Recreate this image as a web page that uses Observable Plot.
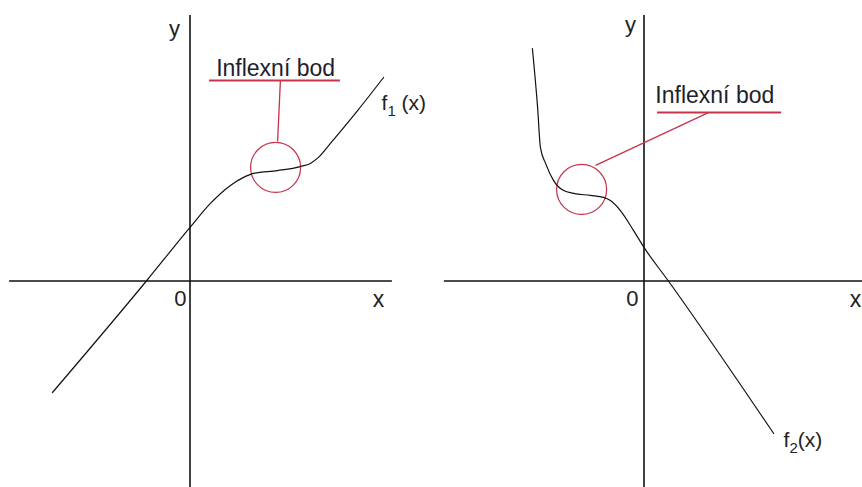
<!DOCTYPE html>
<html>
<head>
<meta charset="utf-8">
<script src="https://cdn.jsdelivr.net/npm/d3@7"></script>
<script src="https://cdn.jsdelivr.net/npm/@observablehq/plot@0.6"></script>
<style>
  html, body { margin: 0; padding: 0; background: #fff; }
  #wrap { display: flex; width: 862px; height: 487px; overflow: hidden; }
  #wrap svg { display: block; }
</style>
</head>
<body>
<div id="wrap"></div>
<script>
// ---- data (math units) ----
const f1X = [-3.44, -1.09, 0, 0.51, 1.01, 1.34, 1.59, 2.19, 2.76, 3.01, 3.21, 3.51, 4.19, 4.84];
const f1Y = [-2.79, 0, 1.34, 1.94, 2.39, 2.59, 2.69, 2.76, 2.86, 2.94, 3.09, 3.44, 4.26, 5.09];

const f2X = [-2.79, -2.66, -2.59, -2.46, -2.26, -2.01, -1.76, -1.34, -1.01, -0.84, -0.59, -0.26, 0, 0.61, 3.24];
const f2Y = [5.81, 4.34, 3.34, 2.94, 2.51, 2.26, 2.19, 2.14, 2.09, 2.01, 1.76, 1.26, 0.84, 0, -3.81];

const inflection1 = [2.14, 2.84];
const inflection2 = [-1.56, 2.29];

const curveNames = ["f_1 (x)", "f_2(x)"];
const calloutText = "Inflexní bod";
const axisNames = ["x", "y", "0"];

// ---- layout ----
const U = 40;             // px per unit
const W = 431, H = 487;
const RED = "#c8324a";
const FONT = "'Liberation Sans', Arial, sans-serif";

function panel(cfg) {
  const pts = cfg.xs.map((x, i) => ({x, y: cfg.ys[i]}));
  const ox = cfg.origin[0], oy = cfg.origin[1];
  const xd = [-ox / U, (W - ox) / U];
  const yd = [(oy - H) / U, oy / U];
  const [ix, iy] = cfg.infl;
  const svg = Plot.plot({
    width: W, height: H,
    margin: 0,
    x: {domain: xd, axis: null},
    y: {domain: yd, axis: null},
    style: {background: "#fff", fontFamily: FONT, color: "#222"},
    marks: [
      // axes
      Plot.ruleY([0], {x1: cfg.hAxis[0], x2: cfg.hAxis[1], stroke: "#111", strokeWidth: 1.6}),
      Plot.ruleX([0], {y1: cfg.vAxis[0], y2: cfg.vAxis[1], stroke: "#111", strokeWidth: 1.6}),
      // callout
      Plot.link([0], {x1: () => cfg.lead[0], y1: () => cfg.lead[1], x2: () => cfg.lead[2], y2: () => cfg.lead[3], stroke: RED, strokeWidth: 1.3}),
      Plot.ruleY([cfg.under[2]], {x1: cfg.under[0], x2: cfg.under[1], stroke: RED, strokeWidth: 2}),
      Plot.dot([[ix, iy]], {x: d => d[0], y: d => d[1], r: 25, stroke: RED, strokeWidth: 1.2, fill: "none"}),
      // curve
      Plot.line(pts, {x: "x", y: "y", curve: "monotone-x", stroke: "#111", strokeWidth: 1.2}),
      // texts
      Plot.text([calloutText], {x: () => cfg.label[0], y: () => cfg.label[1], text: d => d, fontSize: 23, textAnchor: "middle", lineAnchor: "bottom", fill: "#1e1e2e"}),
      Plot.text([cfg.name], {x: () => cfg.nameAt[0], y: () => cfg.nameAt[1], text: d => d, fontSize: 21, textAnchor: "start", lineAnchor: "middle", fill: "#222"}),
      Plot.text([axisNames[1]], {x: () => cfg.yAt[0], y: () => cfg.yAt[1], text: d => d, fontSize: 22, textAnchor: "middle", lineAnchor: "middle", fill: "#222"}),
      Plot.text([axisNames[2]], {x: () => cfg.zeroAt[0], y: () => cfg.zeroAt[1], text: d => d, fontSize: 22, textAnchor: "middle", lineAnchor: "middle", fill: "#222"}),
      Plot.text([axisNames[0]], {x: () => cfg.xAt[0], y: () => cfg.xAt[1], text: d => d, fontSize: 23, textAnchor: cfg.xAnchor, lineAnchor: "middle", fill: "#222"})
    ]
  });
  // subscripts
  svg.querySelectorAll("text").forEach(t => {
    const s = t.textContent;
    const m = s.match(/^(.*)_(\d)(.*)$/);
    if (!m) return;
    while (t.firstChild) t.removeChild(t.firstChild);
    const ns = "http://www.w3.org/2000/svg";
    const a = document.createElementNS(ns, "tspan"); a.textContent = m[1];
    const b = document.createElementNS(ns, "tspan"); b.textContent = m[2];
    b.setAttribute("font-size", "15"); b.setAttribute("dy", "6");
    const c = document.createElementNS(ns, "tspan"); c.textContent = m[3];
    c.setAttribute("dy", "-6");
    t.append(a, b, c);
  });
  return svg;
}

const wrap = document.getElementById("wrap");
wrap.append(panel({
  xs: f1X, ys: f1Y, infl: inflection1, name: curveNames[0],
  origin: [189.5, 280.5],
  hAxis: [-4.51, 5.06], vAxis: [-5.3, 6.64],
  lead: [2.19, 3.49, 2.26, 5.01],
  under: [0.49, 3.76, 5.01],
  label: [2.14, 5.12],
  nameAt: [4.79, 4.44],
  yAt: [-0.39, 6.31], zeroAt: [-0.24, -0.44], xAt: [4.71, -0.46], xAnchor: "middle"
}));
wrap.append(panel({
  xs: f2X, ys: f2Y, infl: inflection2, name: curveNames[1],
  origin: [643.5 - 431, 280.5],
  hAxis: [-4.99, 5.5], vAxis: [-5.3, 6.64],
  lead: [-1.21, 2.89, 1.61, 4.21],
  under: [0.34, 3.44, 4.21],
  label: [1.77, 4.44],
  nameAt: [3.49, -3.99],
  yAt: [-0.34, 6.39], zeroAt: [-0.29, -0.44], xAt: [5.43, -0.46], xAnchor: "end"
}));
</script>
</body>
</html>
